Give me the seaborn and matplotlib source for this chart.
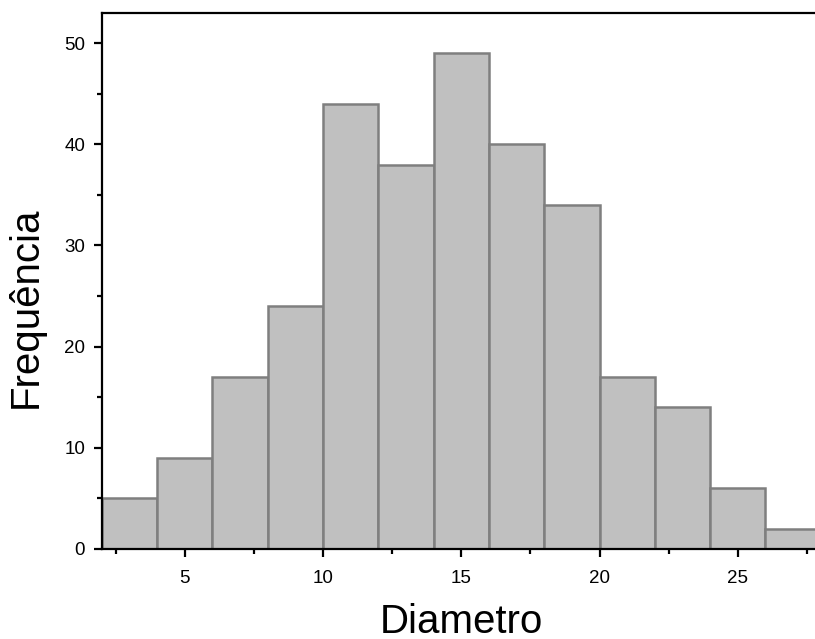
import numpy as np
import pandas as pd
import matplotlib
matplotlib.use("Agg")
import matplotlib.pyplot as plt
from matplotlib.ticker import MultipleLocator
import seaborn as sns

# bin centres (width 2) and counts
bin_centers = [3, 5, 7, 9, 11, 13, 15, 17, 19, 21, 23, 25, 27]
counts = [5, 9, 17, 24, 44, 38, 49, 40, 34, 17, 14, 6, 2]

df = pd.DataFrame({"Diametro": bin_centers, "n": counts})

sns.set_style("ticks")
plt.rcParams["font.family"] = ["Liberation Sans", "DejaVu Sans"]
plt.rcParams["text.color"] = "black"
plt.rcParams["axes.labelcolor"] = "black"
plt.rcParams["xtick.color"] = "black"
plt.rcParams["ytick.color"] = "black"
plt.rcParams["axes.edgecolor"] = "black"

fig = plt.figure(figsize=(8.15, 6.39), dpi=100)
ax = fig.add_axes([0.125, 0.141, 0.882, 0.839])

sns.histplot(data=df, x="Diametro", weights="n", binwidth=2, binrange=(2, 28),
             color="#c0c0c0", edgecolor="#7f7f7f", linewidth=1.8, alpha=1, ax=ax)

ax.set_xlim(2, 28)
ax.set_ylim(0, 53)
ax.xaxis.set_major_locator(MultipleLocator(5))
ax.xaxis.set_minor_locator(MultipleLocator(2.5))
ax.yaxis.set_major_locator(MultipleLocator(10))
ax.yaxis.set_minor_locator(MultipleLocator(5))
ax.tick_params(which="major", length=6, width=1.6, labelsize=13.5, direction="out")
ax.tick_params(which="minor", length=3.5, width=1.6, direction="out")
ax.tick_params(axis="x", which="major", pad=9)
ax.tick_params(axis="y", which="major", pad=6)
for side in ["left", "bottom", "top"]:
    ax.spines[side].set_visible(True)
    ax.spines[side].set_linewidth(1.6)
ax.spines["right"].set_visible(False)

ax.set_xlabel("Diametro", fontsize=29)
ax.set_ylabel("Frequência", fontsize=29)
ax.xaxis.set_label_coords(0.50, -0.100)
ax.yaxis.set_label_coords(-0.080, 0.45)

fig.savefig("out.png", dpi=100)
